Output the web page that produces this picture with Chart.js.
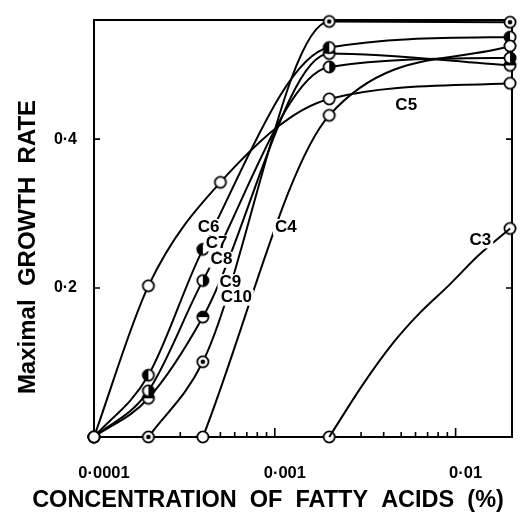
<!DOCTYPE html>
<html><head><meta charset="utf-8">
<script src="https://cdn.jsdelivr.net/npm/chart.js@4.4.0/dist/chart.umd.min.js"></script>
<style>html,body{margin:0;padding:0;background:#fff}#wrap{width:520px;height:514px;position:relative}</style>
</head><body><div id="wrap"><canvas id="c"></canvas></div>
<script>
// ---- data ----
const c3Conc = [0.002, 0.02];
const c3Rate = [0, 0.28];
const c3TraceConc = [0.002, 0.0031, 0.0045, 0.0063, 0.0092, 0.0134, 0.02];
const c3TraceRate = [0, 0.072, 0.126, 0.166, 0.204, 0.244, 0.28];
const c4Conc = [0.0004, 0.002, 0.02];
const c4Rate = [0, 0.432, 0.525];
const c5Conc = [0.0001, 0.0002, 0.0005, 0.002, 0.02];
const c5Rate = [0, 0.203, 0.342, 0.454, 0.475];
const c6Conc = [0.0001, 0.0002, 0.0004, 0.002, 0.02];
const c6Rate = [0, 0.083, 0.252, 0.523, 0.537];
const c7Conc = [0.0001, 0.0002, 0.0004, 0.002, 0.02];
const c7Rate = [0, 0.062, 0.21, 0.497, 0.509];
const c8Conc = [0.0001, 0.0002, 0.0004, 0.002, 0.02];
const c8Rate = [0, 0.052, 0.161, 0.515, 0.499];
const c10Conc = [0.0002, 0.0004, 0.002, 0.02];
const c10Rate = [0, 0.101, 0.558, 0.557];

const curveLabels = ['C3', 'C4', 'C5', 'C6', 'C7', 'C8', 'C9', 'C10'];
const curveLabelConc = [0.0137, 0.00115, 0.00533, 0.00043, 0.000476, 0.000507, 0.000568, 0.000612];
const curveLabelRate = [0.264, 0.282, 0.446, 0.282, 0.260, 0.238, 0.208, 0.187];

const xTickValues = [0.0001, 0.001, 0.01];
const xTickLabels = ['0·0001', '0·001', '0·01'];
const xMinorTicks = [0.0002,0.0003,0.0004,0.0005,0.0006,0.0007,0.0008,0.0009,0.002,0.003,0.004,0.005,0.006,0.007,0.008,0.009];
const yTickValues = [0.2, 0.4];
const yTickLabels = ['0·2', '0·4'];
const xTitle = 'CONCENTRATION  OF  FATTY  ACIDS  (%)';
const yTitle = 'Maximal  GROWTH  RATE';

// ---- markers ----
function marker(kind) {
  const s = 16, c = document.createElement('canvas');
  c.width = s; c.height = s;
  const g = c.getContext('2d');
  const cx = s / 2, cy = s / 2, r = 5.6;
  g.fillStyle = '#fff'; g.beginPath(); g.arc(cx, cy, r, 0, Math.PI * 2); g.fill();
  g.fillStyle = '#000';
  if (kind === 'left') { g.beginPath(); g.moveTo(cx, cy); g.arc(cx, cy, r, Math.PI / 2, Math.PI * 1.5); g.closePath(); g.fill(); }
  if (kind === 'right') { g.beginPath(); g.moveTo(cx, cy); g.arc(cx, cy, r, -Math.PI / 2, Math.PI / 2); g.closePath(); g.fill(); }
  if (kind === 'top') { g.beginPath(); g.moveTo(cx, cy); g.arc(cx, cy, r, Math.PI, Math.PI * 2); g.closePath(); g.fill(); }
  if (kind === 'dot') { g.beginPath(); g.arc(cx, cy, 2.3, 0, Math.PI * 2); g.fill(); }
  g.strokeStyle = '#000'; g.lineWidth = 1.8;
  g.beginPath(); g.arc(cx, cy, r, 0, Math.PI * 2); g.stroke();
  return c;
}
const mOpen = marker('open'), mLeft = marker('left'), mRight = marker('right'), mTop = marker('top'), mDot = marker('dot');

const pts = (xs, ys) => xs.map((x, i) => ({ x: x, y: ys[i] }));
function series(label, xs, ys, style, extra) {
  return Object.assign({
    label: label, data: pts(xs, ys), borderColor: '#000', backgroundColor: '#fff',
    borderWidth: 2, pointStyle: style, pointRadius: 6, cubicInterpolationMode: 'monotone',
    clip: false, showLine: true
  }, extra || {});
}

const datasets = [
  series('C3 curve', c3TraceConc, c3TraceRate, mOpen, { pointRadius: 0 }),
  series('C4', c4Conc, c4Rate, mOpen),
  series('C5', c5Conc, c5Rate, mOpen),
  series('C6', c6Conc, c6Rate, mLeft),
  series('C7', c7Conc, c7Rate, mRight),
  series('C8', c8Conc, c8Rate, mTop),
  series('C10', c10Conc, c10Rate, mDot),
  series('C3', c3Conc, c3Rate, mOpen, { showLine: false })
];

const FONT = "'Liberation Sans', Arial, sans-serif";

const decor = {
  id: 'decor',
  beforeDatasetsDraw(chart) {
    const { ctx, chartArea: a, scales: { x, y } } = chart;
    ctx.save();
    ctx.strokeStyle = '#000'; ctx.lineWidth = 2;
    ctx.strokeRect(a.left, a.top, a.right - a.left, a.bottom - a.top);
    ctx.lineWidth = 1.6;
    ctx.beginPath();
    xMinorTicks.forEach(v => { const px = x.getPixelForValue(v); ctx.moveTo(px, a.bottom); ctx.lineTo(px, a.bottom - 5); });
    xTickValues.forEach(v => { const px = x.getPixelForValue(v); if (px > a.left + 2) { ctx.moveTo(px, a.bottom); ctx.lineTo(px, a.bottom - 9); } });
    yTickValues.forEach(v => { const py = y.getPixelForValue(v); ctx.moveTo(a.left, py); ctx.lineTo(a.left + 6, py); ctx.moveTo(a.right, py); ctx.lineTo(a.right - 6, py); });
    ctx.stroke();
    ctx.restore();
  },
  afterDatasetsDraw(chart) {
    const { ctx, scales: { x, y } } = chart;
    ctx.save();
    ctx.font = 'bold 17px ' + FONT;
    ctx.textAlign = 'center'; ctx.textBaseline = 'middle';
    curveLabels.forEach((t, i) => {
      const px = x.getPixelForValue(curveLabelConc[i]);
      const py = y.getPixelForValue(curveLabelRate[i]);
      const w = ctx.measureText(t).width;
      ctx.fillStyle = '#fff';
      ctx.fillRect(px - w / 2 - 2, py - 8, w + 4, 16);
      ctx.fillStyle = '#000';
      ctx.fillText(t, px, py);
    });
    ctx.restore();
  },
  afterDraw(chart) {
    const { ctx } = chart;
    ctx.save();
    ctx.fillStyle = '#000';
    ctx.textAlign = 'center'; ctx.textBaseline = 'middle';
    ctx.font = 'bold 23.5px ' + FONT;
    ctx.fillText(xTitle, 268, 501);
    ctx.translate(28, 247);
    ctx.rotate(-Math.PI / 2);
    ctx.font = 'bold 24px ' + FONT;
    ctx.fillText(yTitle, 0, 0);
    ctx.restore();
  }
};

new Chart(document.getElementById('c'), {
  type: 'line',
  data: { datasets: datasets },
  plugins: [decor],
  options: {
    responsive: true, maintainAspectRatio: false, animation: false,
    events: [],
    layout: { padding: { top: 20, right: 3, left: 0, bottom: 0 } },
    plugins: { legend: { display: false }, tooltip: { enabled: false } },
    scales: {
      x: {
        type: 'logarithmic', min: 0.0001, max: 0.0205,
        grid: { display: false }, border: { display: false },
        afterFit: s => { s.height = 77; },
        afterBuildTicks: s => { s.ticks = xTickValues.map(v => ({ value: v })); },
        ticks: {
          autoSkip: false, maxRotation: 0, padding: 19, labelOffset: 10,
          color: '#000', font: { family: FONT, size: 16.5, weight: 'bold' },
          callback: v => { const i = xTickValues.findIndex(t => Math.abs(t - v) / t < 1e-6); return i >= 0 ? xTickLabels[i] : ''; }
        }
      },
      y: {
        type: 'linear', min: 0, max: 0.56,
        grid: { display: false }, border: { display: false },
        afterFit: s => { s.width = 94; },
        afterBuildTicks: s => { s.ticks = yTickValues.map(v => ({ value: v })); },
        ticks: {
          padding: 9, color: '#000', font: { family: FONT, size: 16, weight: 'bold' },
          callback: v => { const i = yTickValues.findIndex(t => Math.abs(t - v) < 1e-6); return i >= 0 ? yTickLabels[i] : ''; }
        }
      }
    }
  }
});
</script>
</body></html>
